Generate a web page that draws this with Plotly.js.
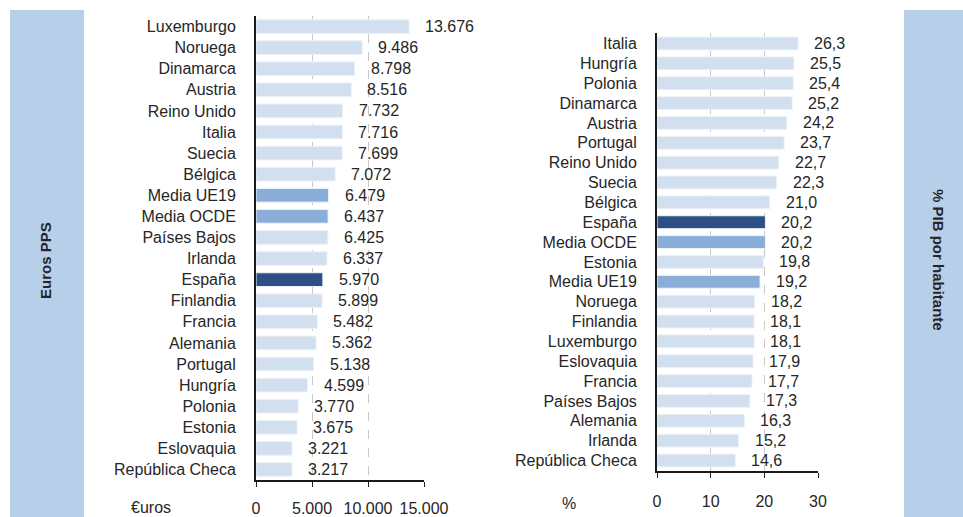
<!DOCTYPE html>
<html>
<head>
<meta charset="utf-8">
<script src="https://cdn.plot.ly/plotly-3.0.1.min.js"></script>
<style>html,body{margin:0;padding:0;background:#fff;}#chart{width:963px;height:517px;}</style>
</head>
<body>
<div id="chart"></div>
<script>
// Left chart: gasto en Euros PPS
const leftCategories = ["Luxemburgo","Noruega","Dinamarca","Austria","Reino Unido","Italia","Suecia","Bélgica","Media UE19","Media OCDE","Países Bajos","Irlanda","España","Finlandia","Francia","Alemania","Portugal","Hungría","Polonia","Estonia","Eslovaquia","República Checa"];
const leftValues = [13676,9486,8798,8516,7732,7716,7699,7072,6479,6437,6425,6337,5970,5899,5482,5362,5138,4599,3770,3675,3221,3217];
const leftTicks = [0,5000,10000,15000];

// Right chart: % PIB por habitante
const rightCategories = ["Italia","Hungría","Polonia","Dinamarca","Austria","Portugal","Reino Unido","Suecia","Bélgica","España","Media OCDE","Estonia","Media UE19","Noruega","Finlandia","Luxemburgo","Eslovaquia","Francia","Países Bajos","Alemania","Irlanda","República Checa"];
const rightValues = [26.3,25.5,25.4,25.2,24.2,23.7,22.7,22.3,21.0,20.2,20.2,19.8,19.2,18.2,18.1,18.1,17.9,17.7,17.3,16.3,15.2,14.6];
const rightTicks = [0,10,20,30];

const W = 963, H = 517;
const FONT = "Liberation Sans, Arial, sans-serif";
const TXT = "#262626";
const FS = 16;
const C_LIGHT = "#d2dfef", C_MID = "#8aaed8", C_DARK = "#2d4f86";
function colorFor(c){ return c === "España" ? C_DARK : (c.indexOf("Media") === 0 ? C_MID : C_LIGHT); }
function fmtThousands(v){ return String(v).replace(/\B(?=(\d{3})+(?!\d))/g, "."); }
function fmtDec(v){ return v.toFixed(1).replace(".", ","); }

const px = (x) => x / W;
const py = (y) => 1 - y / H;

const traces = [
  {type:"bar", orientation:"h", x:leftValues, y:leftCategories, xaxis:"x", yaxis:"y",
   marker:{color:leftCategories.map(colorFor), line:{color:"#eef3fa", width:1}}, hoverinfo:"x+y"},
  {type:"bar", orientation:"h", x:rightValues, y:rightCategories, xaxis:"x2", yaxis:"y2",
   marker:{color:rightCategories.map(colorFor), line:{color:"#eef3fa", width:1}}, hoverinfo:"x+y"}
];

const annotations = [];
leftCategories.forEach((c,i)=>annotations.push({xref:"x", yref:"y", x:leftValues[i], y:c, text:fmtThousands(leftValues[i]),
  showarrow:false, xanchor:"left", yanchor:"middle", xshift:14, font:{family:FONT,size:FS,color:TXT}}));
rightCategories.forEach((c,i)=>annotations.push({xref:"x2", yref:"y2", x:rightValues[i], y:c, text:fmtDec(rightValues[i]),
  showarrow:false, xanchor:"left", yanchor:"middle", xshift:14, font:{family:FONT,size:FS,color:TXT}}));
annotations.push({xref:"paper", yref:"paper", x:px(45), y:py(261), xanchor:"center", yanchor:"middle",
  text:"<b>Euros PPS</b>", textangle:-90, showarrow:false, font:{family:FONT,size:15,color:TXT}});
annotations.push({xref:"paper", yref:"paper", x:px(939), y:py(260), xanchor:"center", yanchor:"middle",
  text:"<b>% PIB por habitante</b>", textangle:90, showarrow:false, font:{family:FONT,size:15,color:TXT}});
annotations.push({xref:"paper", yref:"paper", x:px(151), y:py(507), xanchor:"center", yanchor:"middle",
  text:"€uros", showarrow:false, font:{family:FONT,size:FS,color:TXT}});
annotations.push({xref:"paper", yref:"paper", x:px(569), y:py(503), xanchor:"center", yanchor:"middle",
  text:"%", showarrow:false, font:{family:FONT,size:FS,color:TXT}});

const xCommon = {showgrid:true, gridcolor:"#c8c8c8", griddash:"dash", gridwidth:1, zeroline:false,
  showline:true, linecolor:"#1a1a1a", linewidth:2, ticks:"outside", ticklen:5, tickcolor:"#1a1a1a", tickwidth:1,
  tickfont:{family:FONT,size:FS,color:TXT}, fixedrange:true};
const yCommon = {type:"category", autorange:"reversed", showgrid:false, zeroline:false,
  showline:true, linecolor:"#1a1a1a", linewidth:2, ticks:"", ticklabelstandoff:15,
  tickfont:{family:FONT,size:FS,color:TXT}, fixedrange:true};

const layout = {
  width:W, height:H, margin:{l:0,r:0,t:0,b:0}, paper_bgcolor:"#fff", plot_bgcolor:"rgba(0,0,0,0)",
  separators:",.", showlegend:false, bargap:0.35, font:{family:FONT, color:TXT},
  xaxis: Object.assign({}, xCommon, {domain:[px(256), px(424)], range:[0,15000], tickvals:leftTicks, tickformat:",d", anchor:"y", ticklabelstandoff:8}),
  yaxis: Object.assign({}, yCommon, {domain:[py(480), py(16)], anchor:"x"}),
  xaxis2: Object.assign({}, xCommon, {domain:[px(657), px(818)], range:[0,30], tickvals:rightTicks, anchor:"y2", ticklabelstandoff:10}),
  yaxis2: Object.assign({}, yCommon, {domain:[py(471), py(33)], anchor:"x2"}),
  shapes:[
    {type:"rect", xref:"paper", yref:"paper", x0:px(10), x1:px(84), y0:0, y1:py(10), fillcolor:"#b8cfea", line:{width:0}, layer:"below"},
    {type:"rect", xref:"paper", yref:"paper", x0:px(904), x1:1, y0:0, y1:py(10), fillcolor:"#b8cfea", line:{width:0}, layer:"below"}
  ],
  annotations:annotations
};

Plotly.newPlot("chart", traces, layout, {displayModeBar:false, staticPlot:true});
</script>
</body>
</html>
